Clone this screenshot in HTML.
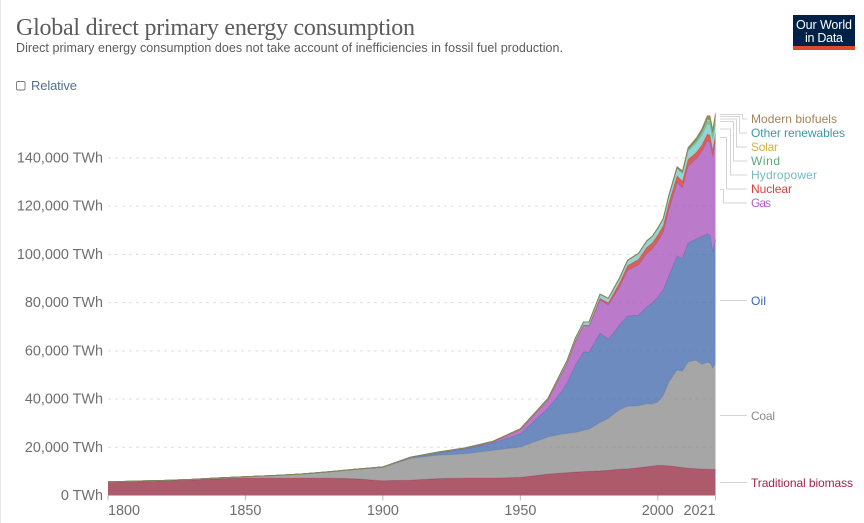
<!DOCTYPE html>
<html lang="en">
<head>
<meta charset="utf-8">
<title>Global direct primary energy consumption</title>
<style>
html,body{margin:0;padding:0;background:#fff;width:864px;height:523px;overflow:hidden}
svg{display:block;font-family:"Liberation Sans",sans-serif}
</style>
</head>
<body>
<svg id="chart" width="864" height="523" viewBox="0 0 864 523" xmlns="http://www.w3.org/2000/svg">
  <rect x="0" y="0" width="1" height="523" fill="#e6e6e6"/>
  <text x="16" y="35" font-family="'Liberation Serif',serif" font-size="24" fill="#5b5b5b" textLength="399" lengthAdjust="spacing">Global direct primary energy consumption</text>
  <text x="16" y="52" font-size="12.5" fill="#5b5b5b" textLength="547" lengthAdjust="spacing">Direct primary energy consumption does not take account of inefficiencies in fossil fuel production.</text>

  <g>
    <rect x="793" y="15" width="62" height="31" fill="#002147"/>
    <rect x="793" y="46" width="62" height="4" fill="#dc4a2f"/>
    <text x="824" y="29" font-size="12.5" fill="#fff" text-anchor="middle" textLength="56">Our World</text>
    <text x="824" y="42" font-size="12.5" fill="#fff" text-anchor="middle" textLength="38">in Data</text>
  </g>

  <g>
    <rect x="16.5" y="81.5" width="8.5" height="8.5" rx="1.5" fill="#fff" stroke="#777" stroke-width="0.9"/>
    <text x="31" y="90" font-size="13" fill="#55708f" textLength="46" lengthAdjust="spacing">Relative</text>
  </g>

  <g id="grid"></g>
  <g id="areas"></g>
  <g id="axes"></g>

  <g fill="none" stroke="#d4d4d4" stroke-width="1">
    <path d="M720 114.5H742.5V119H747"/>
    <path d="M720 116.5H739.5V133H747"/>
    <path d="M720 119H736.5V147H747"/>
    <path d="M720 121.5H733.5V161H747"/>
    <path d="M720 129H730.5V175H747"/>
    <path d="M720 137.5H726.5V189H747"/>
    <path d="M720 189.5H723.5V203H747"/>
    <path d="M720 300.5H747"/>
    <path d="M720 415.5H747"/>
    <path d="M720 482.5H747"/>
  </g>
  <g font-size="12">
    <text x="751" y="123" fill="#a5825a" textLength="86" lengthAdjust="spacing">Modern biofuels</text>
    <text x="751" y="137" fill="#3a9aa5" textLength="94" lengthAdjust="spacing">Other renewables</text>
    <text x="751" y="151" fill="#d4b13f" textLength="27" lengthAdjust="spacing">Solar</text>
    <text x="751" y="165" fill="#5aaa78" textLength="29" lengthAdjust="spacing">Wind</text>
    <text x="751" y="179" fill="#77bac2" textLength="66" lengthAdjust="spacing">Hydropower</text>
    <text x="751" y="193" fill="#d53f3a" textLength="41" lengthAdjust="spacing">Nuclear</text>
    <text x="751" y="207" fill="#b360c8" textLength="20" lengthAdjust="spacing">Gas</text>
    <text x="751" y="305" fill="#3565ae" textLength="15" lengthAdjust="spacing">Oil</text>
    <text x="751" y="420" fill="#8a8a8a" textLength="24" lengthAdjust="spacing">Coal</text>
    <text x="751" y="487" fill="#a2234a" textLength="102" lengthAdjust="spacing">Traditional biomass</text>
  </g>
</svg>
<script>
const years = [1800,1810,1820,1830,1840,1850,1860,1870,1880,1890,1900,1910,1920,1930,1940,1950,1960,1965,1967,1970,1973,1975,1979,1982,1984,1986,1989,1993,1996,1998,2000,2002,2004,2007,2009,2011,2014,2016,2018,2019,2020,2021];
const traditionalBiomass = [5556,5833,6111,6389,6944,7222,7222,7222,7222,6944,6111,6389,7000,7222,7222,7500,8889,9300,9450,9722,9900,10000,10200,10450,10700,10900,11050,11500,11900,12200,12500,12500,12300,11900,11600,11300,11100,11000,10900,10900,10900,10900];
const coal = [97,128,153,264,356,569,1061,1642,2542,3856,5500,9000,9700,10100,11500,12600,15400,16100,16250,16480,17100,17500,20100,21550,23100,24600,25950,25700,26100,25800,26300,29000,34700,40100,40000,44100,45000,43400,44300,44100,41900,43900];
const oil = [0,0,0,0,0,0,0,6,33,86,181,380,1000,2000,3000,5444,11800,17600,21000,27800,32500,32000,37000,32800,33800,35100,37400,37600,40200,41900,43400,43700,44000,47300,46800,49300,50300,53100,53200,53000,48200,51400];
const gas = [0,0,0,0,0,0,0,0,0,20,60,60,230,350,550,1800,3500,7530,8230,10000,11000,10690,13860,14270,15100,15730,18960,20910,22275,22360,23270,24100,27440,30510,29250,31865,33300,35130,38720,38670,39650,40800];
const nuclear = [0,0,0,0,0,0,0,0,0,0,0,0,0,0,0,0,0,30,50,80,200,380,650,900,1300,1650,2000,2250,2450,2500,2550,2650,2750,2750,2700,2750,2600,2650,2750,2800,2650,2800];
const hydropower = [0,0,0,0,0,0,0,0,0,0,20,40,60,100,190,340,600,920,1000,1170,1280,1400,1650,1780,1900,2000,2080,2340,2550,2580,2650,2640,2800,3050,3230,3500,3880,4000,4170,4220,4340,4270];
const wind = [0,0,0,0,0,0,0,0,0,0,0,0,0,0,0,0,0,0,0,0,0,0,0,0,0,0,0,0,5,20,31,60,85,170,270,430,710,960,1270,1420,1590,1860];
const solar = [0,0,0,0,0,0,0,0,0,0,0,0,0,0,0,0,0,0,0,0,0,0,0,0,0,0,0,0,0,0,1,2,3,8,20,65,190,330,570,700,850,1030];
const otherRenewables = [0,0,0,0,0,0,0,0,0,0,0,0,0,0,0,0,0,20,20,20,25,30,40,50,70,80,100,130,150,170,190,210,240,280,310,370,450,510,570,590,620,640];
const modernBiofuels = [0,0,0,0,0,0,0,0,0,0,0,0,0,0,0,0,0,0,0,0,0,0,0,0,30,40,60,70,70,70,110,130,180,330,520,620,770,920,1050,1100,1000,1100];
const seriesNames = ['traditional-biomass','coal','oil','gas','nuclear','hydropower','wind','solar','other-renewables','modern-biofuels'];
const seriesColors = ['#9a3149','#909090','#4a6eb0','#aa5abd','#ce3b31','#7cc9c9','#5ab582','#d3ba3d','#319595','#956f3d'];
const yTicks = [0,20000,40000,60000,80000,100000,120000,140000];
const xTicks = [1800,1850,1900,1950,2000,2021];

const NS = 'http://www.w3.org/2000/svg';
const xScale = function (year) { return 108 + (year - 1800) * (715.5 - 108) / (2021 - 1800); };
const yScale = function (value) { return 495.5 - value * 0.002411; };
const allSeries = [traditionalBiomass, coal, oil, gas, nuclear, hydropower, wind, solar, otherRenewables, modernBiofuels];

const gridG = document.getElementById('grid');
const axesG = document.getElementById('axes');
const areasG = document.getElementById('areas');

yTicks.forEach(function (t) {
  const yPos = yScale(t);
  if (t > 0) {
    const line = document.createElementNS(NS, 'line');
    
    
    line.setAttribute('x1', 108);
    line.setAttribute('x2', 715.5);
    line.setAttribute('y1', yPos);
    line.setAttribute('y2', yPos);
    line.setAttribute('stroke', '#dddddd');
    line.setAttribute('stroke-dasharray', '3,4');
    gridG.appendChild(line);
  }
  const label = document.createElementNS(NS, 'text');
  
  
  label.setAttribute('x', 103);
  label.setAttribute('y', yPos + 4.5);
  label.setAttribute('text-anchor', 'end');
  label.setAttribute('font-size', '14.4');
  label.setAttribute('fill', '#6e6e6e');
  label.textContent = t.toLocaleString('en-US') + ' TWh';
  axesG.appendChild(label);
});

const running = years.map(function () { return 0; });
allSeries.forEach(function (values, i) {
  const lower = running.slice();
  values.forEach(function (v, k) { running[k] += v; });
  const topPts = years.map(function (yr, k) { return xScale(yr).toFixed(2) + ',' + yScale(running[k]).toFixed(2); });
  const botPts = years.map(function (yr, k) { return xScale(yr).toFixed(2) + ',' + yScale(lower[k]).toFixed(2); }).reverse();
  const area = document.createElementNS(NS, 'polygon');
  
  
  area.setAttribute('points', topPts.concat(botPts).join(' '));
  area.setAttribute('fill', seriesColors[i]);
  area.setAttribute('fill-opacity', '0.8');
  areasG.appendChild(area);
  const edge = document.createElementNS(NS, 'polyline');
  
  
  edge.setAttribute('points', topPts.join(' '));
  edge.setAttribute('fill', 'none');
  edge.setAttribute('stroke', seriesColors[i]);
  edge.setAttribute('stroke-width', '0.9');
  edge.setAttribute('stroke-opacity', '0.65');
  areasG.appendChild(edge);
});

xTicks.forEach(function (yr, i) {
  const xPos = xScale(yr);
  const tick = document.createElementNS(NS, 'line');
  
  
  tick.setAttribute('x1', xPos);
  tick.setAttribute('x2', xPos);
  tick.setAttribute('y1', 495.5);
  tick.setAttribute('y2', 500.5);
  tick.setAttribute('stroke', '#bbbbbb');
  axesG.appendChild(tick);
  const label = document.createElementNS(NS, 'text');
  
  
  const anchor = i === 0 ? 'start' : (i === xTicks.length - 1 ? 'end' : 'middle');
  label.setAttribute('x', xPos);
  label.setAttribute('y', 515);
  label.setAttribute('text-anchor', anchor);
  label.setAttribute('font-size', '14.4');
  label.setAttribute('fill', '#6e6e6e');
  label.textContent = yr;
  axesG.appendChild(label);
});
</script>
</body>
</html>
